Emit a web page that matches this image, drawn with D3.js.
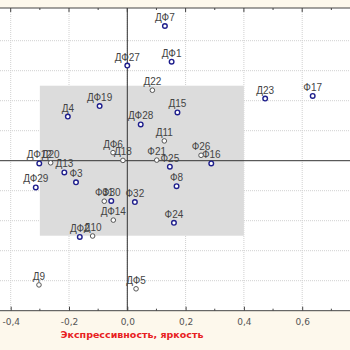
<!DOCTYPE html>
<html><head><meta charset="utf-8">
<script src="https://cdn.jsdelivr.net/npm/d3@7"></script>
<style>body{margin:0;background:#fdf8ec;}svg{display:block;}</style>
</head><body>
<script>
const names = ["ДФ7","ДФ1","ДФ27","Д22","Д15","ДФ28","Д11","Д4","ДФ19","ДФ6","Д18","ДФ12","Д20","Д13","Ф3","ДФ29","Ф31","Ф30","ДФ14","ДФ2","Д10","Ф21","Ф25","Ф8","Ф32","Ф24","Ф26","Ф16","Д23","Ф17","Д9","ДФ5"];
const xVals = [0.129,0.152,0.000,0.086,0.172,0.046,0.127,-0.204,-0.095,-0.049,-0.015,-0.302,-0.263,-0.216,-0.176,-0.314,-0.079,-0.055,-0.048,-0.163,-0.119,0.101,0.146,0.169,0.026,0.160,0.253,0.288,0.473,0.636,-0.303,0.030];
const yVals = [0.449,0.330,0.317,0.235,0.161,0.121,0.066,0.147,0.182,0.027,0.001,-0.009,-0.007,-0.039,-0.072,-0.089,-0.135,-0.134,-0.198,-0.254,-0.251,0.002,-0.020,-0.085,-0.138,-0.207,0.018,-0.009,0.207,0.216,-0.414,-0.427];
const groups = [1,1,1,0,1,1,0,1,1,0,0,1,0,1,1,1,0,1,0,1,0,0,1,1,1,1,0,1,1,1,0,0];
const xTicks = [-0.4,-0.2,0,0.2,0.4,0.6];
const xMinor = [-0.3,-0.1,0.1,0.3,0.5,0.7];
const yGrid = [-0.4,-0.3,-0.2,-0.1,0.1,0.2,0.3,0.4];
const boxX = [-0.3,0.4];
const boxY = [-0.25,0.25];
const xTitle = "Экспрессивность, яркость";

const W=350,H=350;
const x = d3.scaleLinear().domain([0,0.6]).range([127.3,302.2]);
const y = d3.scaleLinear().domain([-0.5,0.5]).range([310.7,10.7]);
const plotTop=8, plotBottom=310.7;
const svg = d3.select("body").append("svg").attr("width",W).attr("height",H);
svg.append("rect").attr("width",W).attr("height",H).attr("fill","#fdf8ec");
svg.append("rect").attr("x",0).attr("y",plotTop).attr("width",W).attr("height",plotBottom-plotTop).attr("fill","#ffffff");

// grid
svg.append("g").selectAll("line").data(xTicks).join("line")
  .attr("x1",d=>x(d)).attr("x2",d=>x(d)).attr("y1",plotTop).attr("y2",plotBottom)
  .attr("stroke","#d0d0d0").attr("stroke-dasharray","1,1");
svg.append("g").selectAll("line").data(yGrid).join("line")
  .attr("x1",0).attr("x2",W).attr("y1",d=>y(d)).attr("y2",d=>y(d))
  .attr("stroke","#d0d0d0").attr("stroke-dasharray","1,1");

// box
svg.append("rect").attr("x",x(boxX[0])).attr("y",y(boxY[1]))
  .attr("width",x(boxX[1])-x(boxX[0])).attr("height",y(boxY[0])-y(boxY[1]))
  .attr("fill","#dcdcdc");

// zero lines
svg.append("line").attr("x1",x(0)).attr("x2",x(0)).attr("y1",plotTop).attr("y2",plotBottom).attr("stroke","#333").attr("stroke-width",1);
svg.append("line").attr("x1",0).attr("x2",W).attr("y1",y(0)).attr("y2",y(0)).attr("stroke","#333").attr("stroke-width",1);

// frame + ticks
svg.append("line").attr("x1",0).attr("x2",W).attr("y1",plotTop).attr("y2",plotTop).attr("stroke","#444");
const bAxis = d3.axisBottom(x).tickValues(xTicks).tickSize(-4).tickFormat(d=>d3.format(".1f")(d).replace(".",",").replace("−","-"));
const gb = svg.append("g").attr("transform",`translate(0,${plotBottom})`).call(bAxis);
gb.select(".domain").remove();
gb.append("line").attr("x1",0).attr("x2",W).attr("stroke","#444");
gb.selectAll(".tick line").attr("stroke","#444");
gb.selectAll(".tick text").attr("y",8).attr("dy","0.71em").attr("fill","#555").attr("font-family","DejaVu Sans").attr("font-size",9);
svg.append("g").selectAll("line").data(xMinor).join("line")
  .attr("x1",d=>x(d)).attr("x2",d=>x(d)).attr("y1",plotBottom-2).attr("y2",plotBottom).attr("stroke","#444");
svg.append("g").selectAll("line").data(xTicks.concat(xMinor)).join("line")
  .attr("x1",d=>x(d)).attr("x2",d=>x(d)).attr("y1",plotTop).attr("y2",d=>plotTop+(xTicks.includes(d)?4:2)).attr("stroke","#444");

// title
svg.append("text").attr("x",132).attr("y",338).attr("text-anchor","middle")
  .attr("font-family","DejaVu Sans").attr("font-size",9.5).attr("font-weight","bold")
  .attr("fill","#e8201e").text(xTitle);

// points
const data = names.map((n,i)=>({n,x:xVals[i],y:yVals[i],g:groups[i]}));
svg.append("g").selectAll("text").data(data).join("text")
  .attr("x",d=>x(d.x)).attr("y",d=>y(d.y)-5).attr("text-anchor","middle")
  .attr("font-family","Liberation Sans, Arial").attr("font-size",10).attr("fill","#444").text(d=>d.n);
svg.append("g").selectAll("circle").data(data).join("circle")
  .attr("cx",d=>x(d.x)).attr("cy",d=>y(d.y)).attr("r",2.3)
  .attr("fill","#fff").attr("stroke",d=>d.g?"#1e1e8c":"#555")
  .attr("stroke-width",d=>d.g?1.4:1);
</script>
</body></html>
